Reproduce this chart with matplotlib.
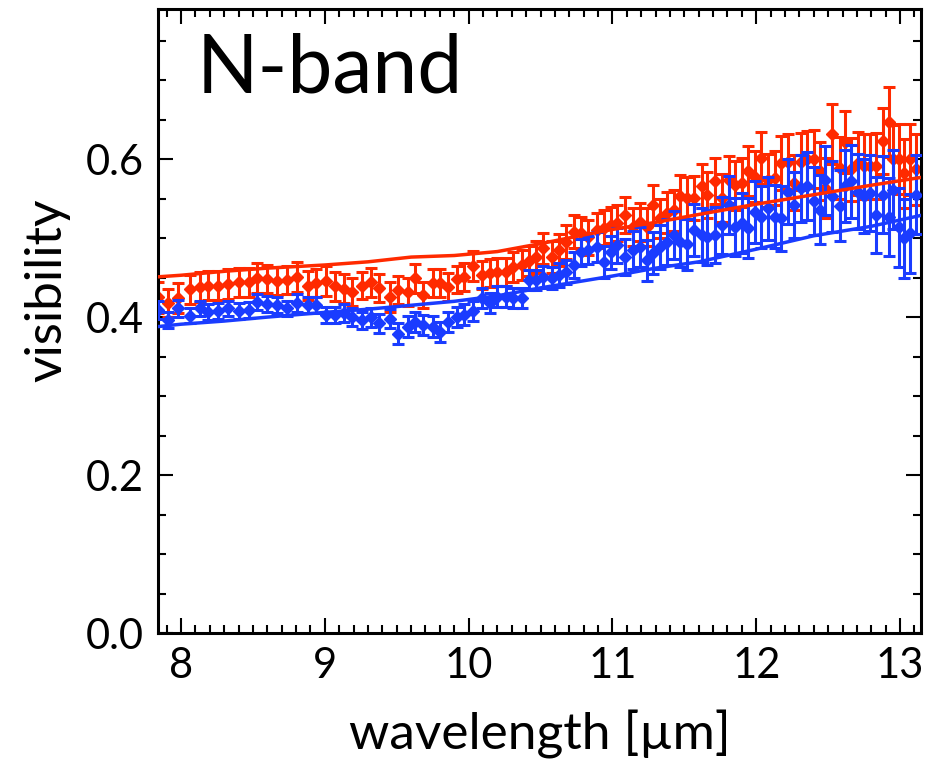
import numpy as np
import matplotlib
matplotlib.use('Agg')
import matplotlib.pyplot as plt
from matplotlib.ticker import MultipleLocator

plt.rcParams['font.family'] = ['Lato', 'DejaVu Sans']

# wavelength grid of the measured points [micron]
wl = [7.84, 7.91, 7.98, 8.06, 8.13, 8.19, 8.26, 8.33, 8.40, 8.47,
      8.53, 8.60, 8.67, 8.74, 8.81, 8.88, 8.94, 9.01, 9.07, 9.13,
      9.19, 9.26, 9.32, 9.38, 9.45, 9.51, 9.58, 9.63, 9.68, 9.75,
      9.80, 9.86, 9.92, 9.97, 10.03, 10.09, 10.15, 10.20, 10.26, 10.31,
      10.37, 10.42, 10.47, 10.52, 10.58, 10.63, 10.68, 10.73, 10.78, 10.83,
      10.89, 10.94, 10.99, 11.03, 11.09, 11.14, 11.19, 11.24, 11.28, 11.33,
      11.38, 11.43, 11.47, 11.52, 11.57, 11.62, 11.66, 11.71, 11.76, 11.81,
      11.85, 11.90, 11.94, 11.99, 12.03, 12.08, 12.13, 12.17, 12.22, 12.26,
      12.31, 12.35, 12.40, 12.44, 12.48, 12.53, 12.58, 12.62, 12.66, 12.71,
      12.75, 12.79, 12.83, 12.88, 12.92, 12.95, 12.99, 13.03, 13.07, 13.11]

vis_red = [0.425, 0.418, 0.424, 0.435, 0.438, 0.440, 0.440, 0.442, 0.444, 0.444,
           0.449, 0.448, 0.446, 0.447, 0.451, 0.440, 0.443, 0.446, 0.439, 0.436,
           0.432, 0.440, 0.444, 0.437, 0.426, 0.434, 0.432, 0.449, 0.428, 0.443,
           0.443, 0.438, 0.448, 0.451, 0.465, 0.453, 0.456, 0.457, 0.457, 0.463,
           0.466, 0.471, 0.476, 0.487, 0.476, 0.485, 0.495, 0.508, 0.506, 0.501,
           0.510, 0.513, 0.517, 0.519, 0.529, 0.514, 0.520, 0.514, 0.542, 0.525,
           0.532, 0.535, 0.553, 0.551, 0.551, 0.566, 0.555, 0.572, 0.551, 0.574,
           0.567, 0.570, 0.585, 0.578, 0.601, 0.573, 0.576, 0.595, 0.597, 0.570,
           0.597, 0.600, 0.600, 0.585, 0.563, 0.632, 0.589, 0.622, 0.587, 0.595,
           0.591, 0.591, 0.591, 0.623, 0.647, 0.600, 0.600, 0.582, 0.600, 0.587]

err_red = [0.020, 0.018, 0.019, 0.018, 0.019, 0.018, 0.018, 0.019, 0.018, 0.018,
           0.019, 0.018, 0.018, 0.018, 0.019, 0.018, 0.018, 0.019, 0.018, 0.018,
           0.018, 0.017, 0.018, 0.018, 0.019, 0.018, 0.018, 0.018, 0.017, 0.018,
           0.018, 0.018, 0.017, 0.018, 0.019, 0.018, 0.018, 0.018, 0.018, 0.019,
           0.019, 0.019, 0.020, 0.020, 0.020, 0.020, 0.021, 0.021, 0.021, 0.022,
           0.022, 0.022, 0.023, 0.023, 0.023, 0.024, 0.024, 0.024, 0.025, 0.025,
           0.026, 0.026, 0.027, 0.027, 0.028, 0.028, 0.029, 0.029, 0.030, 0.030,
           0.031, 0.031, 0.032, 0.032, 0.033, 0.033, 0.034, 0.034, 0.035, 0.035,
           0.036, 0.036, 0.037, 0.037, 0.038, 0.038, 0.039, 0.039, 0.040, 0.040,
           0.041, 0.041, 0.042, 0.042, 0.044, 0.043, 0.044, 0.044, 0.045, 0.045]

vis_blue = [0.409, 0.396, 0.411, 0.402, 0.411, 0.406, 0.408, 0.411, 0.408, 0.409,
            0.419, 0.417, 0.415, 0.411, 0.418, 0.415, 0.415, 0.403, 0.403, 0.405,
            0.400, 0.396, 0.400, 0.392, 0.398, 0.379, 0.388, 0.394, 0.390, 0.388,
            0.381, 0.394, 0.400, 0.403, 0.408, 0.424, 0.418, 0.426, 0.426, 0.424,
            0.424, 0.447, 0.447, 0.451, 0.449, 0.453, 0.457, 0.466, 0.482, 0.485,
            0.489, 0.470, 0.482, 0.491, 0.476, 0.485, 0.489, 0.472, 0.481, 0.489,
            0.495, 0.504, 0.495, 0.492, 0.510, 0.504, 0.501, 0.504, 0.516, 0.542,
            0.514, 0.519, 0.513, 0.533, 0.527, 0.538, 0.527, 0.525, 0.559, 0.542,
            0.563, 0.566, 0.547, 0.536, 0.573, 0.553, 0.541, 0.566, 0.572, 0.559,
            0.553, 0.557, 0.529, 0.555, 0.527, 0.561, 0.514, 0.500, 0.506, 0.555]

err_blue = [0.011, 0.010, 0.011, 0.010, 0.010, 0.010, 0.010, 0.010, 0.010, 0.010,
            0.010, 0.010, 0.010, 0.010, 0.011, 0.010, 0.010, 0.010, 0.010, 0.011,
            0.011, 0.011, 0.012, 0.012, 0.012, 0.013, 0.013, 0.013, 0.013, 0.013,
            0.013, 0.013, 0.013, 0.013, 0.013, 0.013, 0.013, 0.013, 0.013, 0.013,
            0.013, 0.013, 0.013, 0.014, 0.014, 0.015, 0.015, 0.016, 0.017, 0.018,
            0.019, 0.020, 0.021, 0.022, 0.023, 0.024, 0.025, 0.026, 0.027, 0.028,
            0.029, 0.030, 0.031, 0.032, 0.033, 0.034, 0.035, 0.036, 0.036, 0.037,
            0.037, 0.038, 0.038, 0.039, 0.039, 0.040, 0.040, 0.041, 0.041, 0.042,
            0.042, 0.043, 0.043, 0.044, 0.044, 0.045, 0.045, 0.046, 0.046, 0.047,
            0.047, 0.048, 0.048, 0.049, 0.049, 0.050, 0.050, 0.050, 0.050, 0.050]

# model curves
model_wl = [7.84, 8.0, 8.3, 8.6, 9.0, 9.3, 9.6, 9.9, 10.2, 10.5,
            10.8, 11.0, 11.3, 11.6, 12.0, 12.4, 12.8, 13.15]
model_red = [0.451, 0.453, 0.458, 0.462, 0.466, 0.470, 0.476, 0.478, 0.483, 0.493,
             0.504, 0.511, 0.520, 0.530, 0.543, 0.555, 0.567, 0.577]
model_blue = [0.388, 0.391, 0.395, 0.400, 0.406, 0.410, 0.415, 0.420, 0.427, 0.437,
              0.446, 0.452, 0.462, 0.470, 0.486, 0.503, 0.515, 0.529]

red = '#ff2a00'
blue = '#1a3cff'

fig = plt.figure(figsize=(9.37, 7.59), dpi=100)
ax = fig.add_axes([0.1686, 0.166, 0.8144, 0.822])

ax.errorbar(wl, vis_red, yerr=err_red, fmt='D', color=red, ms=6,
            elinewidth=2.2, capsize=4, capthick=2.2, zorder=2)
ax.errorbar(wl, vis_blue, yerr=err_blue, fmt='D', color=blue, ms=6,
            elinewidth=2.2, capsize=4, capthick=2.2, zorder=3)
ax.plot(model_wl, model_red, color=red, lw=2.5, zorder=4)
ax.plot(model_wl, model_blue, color=blue, lw=2.5, zorder=5)

ax.set_xlim(7.84, 13.146)
ax.set_ylim(0.0, 0.79)
ax.xaxis.set_major_locator(MultipleLocator(1))
ax.xaxis.set_minor_locator(MultipleLocator(0.1))
ax.yaxis.set_major_locator(MultipleLocator(0.2))
ax.yaxis.set_minor_locator(MultipleLocator(0.05))
ax.yaxis.set_major_formatter(matplotlib.ticker.FormatStrFormatter('%.1f'))

ax.tick_params(which='both', direction='in', top=True, right=True, width=1.5)
ax.tick_params(which='major', length=11, labelsize=30, pad=10)
ax.tick_params(which='minor', length=5.5)
for s in ax.spines.values():
    s.set_linewidth(2.2)

ax.set_xlabel('wavelength [µm]', fontsize=37, labelpad=18)
ax.set_ylabel('visibility', fontsize=37)
ax.yaxis.set_label_coords(-0.115, 0.55)
ax.text(0.05, 0.963, 'N-band', transform=ax.transAxes, fontsize=58,
        ha='left', va='top')

fig.savefig('out.png', dpi=100)
